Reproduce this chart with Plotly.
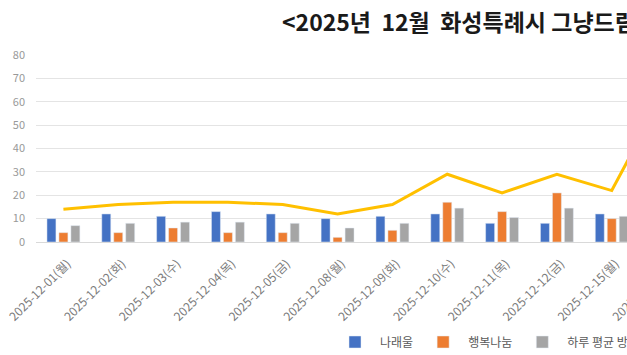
import plotly.graph_objects as go

categories = ["2025-12-01(월)", "2025-12-02(화)", "2025-12-03(수)", "2025-12-04(목)",
              "2025-12-05(금)", "2025-12-08(월)", "2025-12-09(화)", "2025-12-10(수)",
              "2025-12-11(목)", "2025-12-12(금)", "2025-12-15(월)", "2025-12-16(화)"]
naraeul = [10, 12, 11, 13, 12, 10, 11, 12, 8, 8, 12, None]
haengbok = [4, 4, 6, 4, 4, 2, 5, 17, 13, 21, 10, None]
daily_avg = [7, 8, 8.5, 8.5, 8, 6, 8, 14.5, 10.5, 14.5, 11, None]
total = [14, 16, 17, 17, 16, 12, 16, 29, 21, 29, 22, 66]

W = 700
H = 355
FONT = "Noto Sans CJK KR"

fig = go.Figure()
fig.add_trace(go.Bar(x=categories, y=naraeul, name="나래울", marker_color="#4472C4"))
fig.add_trace(go.Bar(x=categories, y=haengbok, name="행복나눔", marker_color="#ED7D31"))
fig.add_trace(go.Bar(x=categories, y=daily_avg, name="하루 평균 방문자", marker_color="#A5A5A5"))
fig.add_trace(go.Scatter(x=categories, y=total, name="합계", mode="lines",
                         line=dict(color="#FFC000", width=3)))

plot_w = 54.85 * len(categories)
fig.update_layout(
    width=W, height=H,
    margin=dict(l=36, r=W - 36 - plot_w, t=55, b=113, autoexpand=False),
    paper_bgcolor="white", plot_bgcolor="white",
    font=dict(family=FONT, color="#808080"),
    barmode="group", bargap=0.345, bargroupgap=0.25,
    title=dict(text="<b>&lt;2025년&nbsp; 12월&nbsp; 화성특례시 그냥드림 이용 현황&gt;</b>",
               x=282 / W, xanchor="left", xref="container",
               y=1 - 23 / H, yanchor="middle", yref="container",
               font=dict(family=FONT, size=23, color="#1a1a1a")),
    legend=dict(orientation="h", xref="container", yref="container",
                x=330 / W, xanchor="left", y=13 / H, yanchor="middle",
                itemwidth=40,
                font=dict(size=12, color="#595959")),
    xaxis=dict(type="category", range=[-0.5, len(categories) - 0.5], automargin=False,
               tickangle=-45, tickfont=dict(size=12, color="#7a7a7a"),
               ticklabelstandoff=9, ticklabelshift=4,
               showline=True, linecolor="#d9d9d9", linewidth=1, ticks=""),
    yaxis=dict(range=[0, 80], dtick=10, showgrid=True, gridcolor="#e4e4e4", gridwidth=1,
               automargin=False, zeroline=False, tickfont=dict(size=11, color="#999999"),
               ticklabelstandoff=10, ticks=""),
)

fig.write_html("out.html", config={"displayModeBar": False},
               post_script="document.body.style.margin='0';document.body.style.overflow='hidden';")
